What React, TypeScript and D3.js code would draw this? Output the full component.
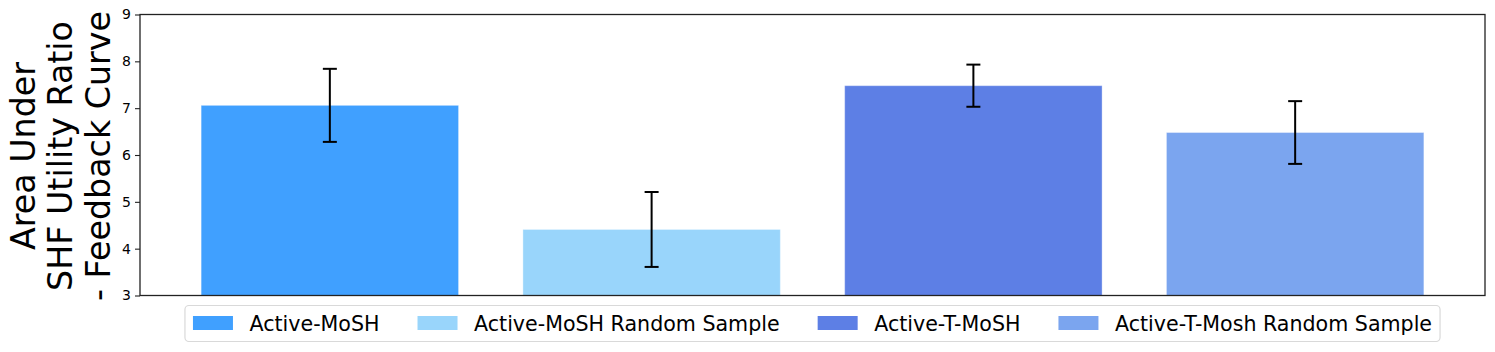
import { useRef, useEffect } from "react";
import * as d3 from "d3";

const categories = [
  "Active-MoSH",
  "Active-MoSH Random Sample",
  "Active-T-MoSH",
  "Active-T-Mosh Random Sample",
];
const means = [7.06, 4.41, 7.48, 6.48];
const errors = [0.78, 0.8, 0.45, 0.67];
const colors = ["#40A0FF", "#99D5FB", "#5D7FE5", "#7BA5EF"];
const yTicks = [3, 4, 5, 6, 7, 8, 9];
const yLabelLines = ["Area Under", "SHF Utility Ratio", "- Feedback Curve"];

const W = 1495;
const H = 352;
const margin = { left: 140, right: 10, top: 14.5, bottom: 56.5 };
const FONT = "DejaVu Sans, sans-serif";

export default function App() {
  const svgRef = useRef<SVGSVGElement>(null);

  useEffect(() => {
    document.body.style.margin = "0";
    const svg = d3.select(svgRef.current);
    svg.selectAll("*").remove();

    const x0 = margin.left;
    const x1 = W - margin.right;
    const y0 = H - margin.bottom;
    const y1 = margin.top;

    // matplotlib-like x limits: bars of width 0.8, 5% padding
    const xScale = d3.scaleLinear().domain([-0.59, 3.59]).range([x0, x1]);
    const yScale = d3.scaleLinear().domain([3, 9]).range([y0, y1]);
    const barW = xScale(0.8) - xScale(0);

    const g = svg.append("g");

    g.selectAll(".bar")
      .data(means)
      .join("rect")
      .attr("class", "bar")
      .attr("x", (_, i) => xScale(i) - barW / 2)
      .attr("width", barW)
      .attr("y", (d) => yScale(d))
      .attr("height", (d) => y0 - yScale(d))
      .attr("fill", (_, i) => colors[i])
      .attr("stroke", "rgba(255,255,255,0.35)")
      .attr("stroke-width", 1);

    // error bars
    const eb = g
      .selectAll(".err")
      .data(means)
      .join("g")
      .attr("class", "err")
      .attr("stroke", "#000")
      .attr("stroke-width", 2);
    eb.append("line")
      .attr("x1", (_, i) => xScale(i))
      .attr("x2", (_, i) => xScale(i))
      .attr("y1", (d, i) => yScale(d + errors[i]))
      .attr("y2", (d, i) => yScale(d - errors[i]));
    [1, -1].forEach((s) => {
      eb.append("line")
        .attr("x1", (_, i) => xScale(i) - 7)
        .attr("x2", (_, i) => xScale(i) + 7)
        .attr("y1", (d, i) => yScale(d + s * errors[i]))
        .attr("y2", (d, i) => yScale(d + s * errors[i]));
    });

    // frame
    g.append("rect")
      .attr("x", x0)
      .attr("y", y1)
      .attr("width", x1 - x0)
      .attr("height", y0 - y1)
      .attr("fill", "none")
      .attr("stroke", "#222")
      .attr("stroke-width", 1.3);

    // y axis
    const yAxis = d3
      .axisLeft(yScale)
      .tickValues(yTicks)
      .tickFormat(d3.format("d"))
      .tickSize(5)
      .tickPadding(4);
    const ya = g
      .append("g")
      .attr("transform", `translate(${x0},0)`)
      .call(yAxis)
      .attr("font-family", FONT)
      .attr("font-size", 14);
    ya.select(".domain").remove();
    ya.selectAll("line").attr("stroke", "#222").attr("stroke-width", 1.1);
    ya.selectAll("text").attr("fill", "#000");

    // y label
    const yc = 156;
    const baselines = [35, 72, 110];
    yLabelLines.forEach((t, i) => {
      g.append("text")
        .attr("transform", `translate(${baselines[i]},${yc}) rotate(-90)`)
        .attr("text-anchor", "middle")
        .attr("font-family", FONT)
        .attr("font-size", 33.3)
        .attr("fill", "#000")
        .text(t);
    });

    // legend
    const fs = 20.6;
    const handle = 40;
    const textPad = 16.5;
    const colSpace = 38;
    const lg = svg.append("g");
    const box = lg.append("rect");
    const items = lg.selectAll(".li").data(categories).join("g").attr("class", "li");
    let cx = 0;
    items.each(function (d, i) {
      const it = d3.select(this);
      it.append("rect")
        .attr("x", cx)
        .attr("y", -7)
        .attr("width", handle)
        .attr("height", 14)
        .attr("fill", colors[i]);
      const txt = it
        .append("text")
        .attr("x", cx + handle + textPad)
        .attr("y", 7.5)
        .attr("font-family", FONT)
        .attr("font-size", fs)
        .attr("fill", "#000")
        .text(d);
      const w = (txt.node() as SVGTextElement).getComputedTextLength();
      cx += handle + textPad + w + colSpace;
    });
    const total = cx - colSpace;
    const pad = 8;
    const lx = (x0 + x1) / 2 - total / 2;
    const ly = 323;
    items.attr("transform", `translate(${lx},${ly})`);
    box
      .attr("x", lx - pad)
      .attr("y", ly - 17.5)
      .attr("width", total + 2 * pad)
      .attr("height", 36)
      .attr("rx", 4)
      .attr("fill", "#fff")
      .attr("stroke", "#d9d9d9")
      .attr("stroke-width", 1.2);
  }, []);

  return <svg ref={svgRef} width={W} height={H} style={{ display: "block" }} />;
}
